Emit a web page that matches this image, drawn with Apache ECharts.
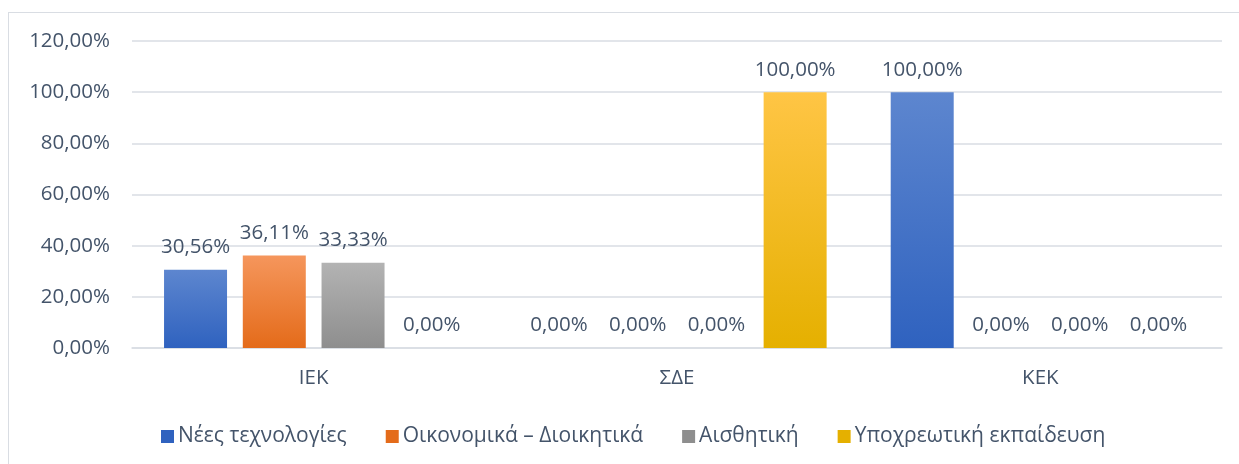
<!DOCTYPE html>
<html>
<head>
<meta charset="utf-8">
<script src="https://cdn.jsdelivr.net/npm/echarts@6/dist/echarts.min.js"></script>
<style>
  html, body { margin: 0; padding: 0; background: #fff; }
  #frame { position: absolute; left: 8px; top: 12px; width: 1240px; height: 470px; border: 1px solid #d9dde3; box-sizing: border-box; }
  #chart { width: 1239px; height: 464px; }
</style>
</head>
<body>
<div id="frame"></div>
<div id="chart"></div>
<script>
// κατηγορίες και τιμές
var categories = ['ΙΕΚ', 'ΣΔΕ', 'ΚΕΚ'];
var seriesNames = ['Νέες τεχνολογίες', 'Οικονομικά – Διοικητικά', 'Αισθητική', 'Υποχρεωτική εκπαίδευση'];
var newTech = [30.56, 0, 100];
var economics = [36.11, 0, 0];
var aesthetics = [33.33, 0, 0];
var compulsory = [0, 100, 0];
var yTicks = [0, 20, 40, 60, 80, 100, 120];

var gradients = [
    ['#5d86cf', '#2f62bf'],
    ['#f5965c', '#e46b1a'],
    ['#b3b3b3', '#8e8e8e'],
    ['#ffc545', '#e5b000']
];

function fmt(v) {
    return v.toFixed(2).replace('.', ',') + '%';
}

function makeSeries(name, data, idx) {
    return {
        name: name,
        type: 'bar',
        data: data,
        barWidth: 63,
        barGap: '25%',
        itemStyle: {
            color: new echarts.graphic.LinearGradient(0, 0, 0, 1, [
                { offset: 0, color: gradients[idx][0] },
                { offset: 1, color: gradients[idx][1] }
            ])
        },
        label: {
            show: true,
            position: 'top',
            distance: 12,
            color: '#44546a',
            fontSize: 20.5,
            fontFamily: 'Open Sans',
            formatter: function (p) { return fmt(p.value); }
        }
    };
}

function init() {
    var chart = echarts.init(document.getElementById('chart'));
    chart.setOption({
        animation: false,
        grid: { left: 132, right: 17, top: 41, bottom: 116 },
        legend: {
            data: seriesNames.map(function (n, i) {
                return { name: n, itemStyle: { color: gradients[i][1] } };
            }),
            top: 421,
            left: 156,
            icon: 'rect',
            itemWidth: 13,
            itemHeight: 13,
            itemGap: 39,
            textStyle: { color: '#44546a', fontSize: 21, fontFamily: 'Open Sans', padding: [0, 0, 0, -1] }
        },
        xAxis: {
            type: 'category',
            data: categories,
            axisLine: { lineStyle: { color: '#d9dde3', width: 1.5 } },
            axisTick: { show: false },
            axisLabel: { color: '#44546a', fontSize: 20.5, fontFamily: 'Open Sans', margin: 20 }
        },
        yAxis: {
            type: 'value',
            min: yTicks[0],
            max: yTicks[yTicks.length - 1],
            interval: 20,
            axisLine: { show: false },
            axisTick: { show: false },
            splitLine: { lineStyle: { color: '#d9dde3', width: 1.5 } },
            axisLabel: {
                color: '#44546a', fontSize: 20.5, fontFamily: 'Open Sans', margin: 22,
                formatter: function (v) { return fmt(v); }
            }
        },
        series: [
            makeSeries(seriesNames[0], newTech, 0),
            makeSeries(seriesNames[1], economics, 1),
            makeSeries(seriesNames[2], aesthetics, 2),
            makeSeries(seriesNames[3], compulsory, 3)
        ]
    });
    window.addEventListener('resize', function () { chart.resize(); });
}

window.addEventListener('DOMContentLoaded', init);
</script>
</body>
</html>
